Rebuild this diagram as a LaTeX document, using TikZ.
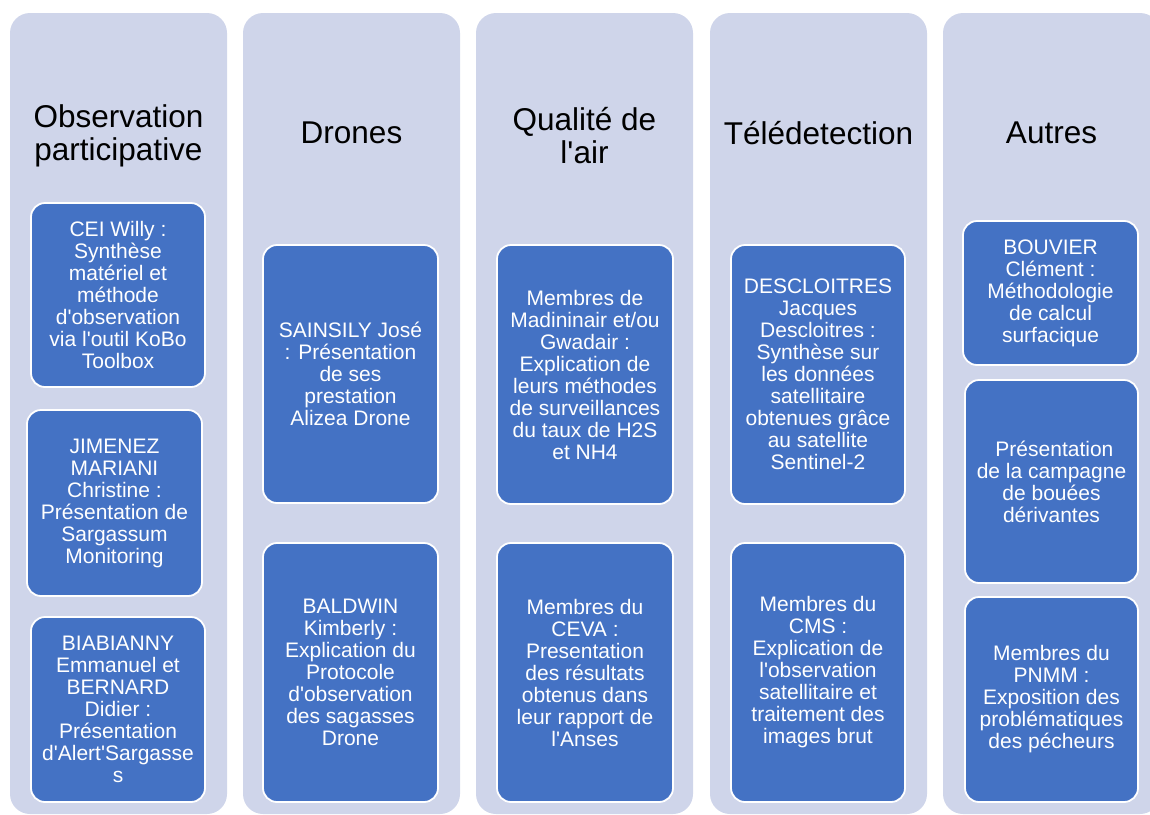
\documentclass[tikz,border=0pt]{standalone}
\usepackage{fontspec}
\setmainfont{Liberation Sans}
\definecolor{lav}{HTML}{CFD5EA}
\definecolor{boxblue}{HTML}{4472C4}
\newcommand\aq{\textquotesingle}
\newcommand\mybox[6]{\node[item, minimum width={#4-#2}, minimum height={#5-#3}] (#1) at ({(#2+#4)/2},{(#3+#5)/2}) {#6};}
\begin{document}
\begin{tikzpicture}[x=1pt,y=-1pt,
 colbg/.style={fill=lav, draw=none, rounded corners=20pt, minimum width=217pt, minimum height=801pt, inner sep=0pt},
 ttl/.style={font=\fontsize{31.5}{33}\selectfont, align=center, text=black, inner sep=0pt},
 item/.style={fill=boxblue, draw=white, line width=1.8pt, rounded corners=14pt, inner sep=0pt, text=white, align=center, font=\fontsize{21}{22}\selectfont},
]
\useasboundingbox (0,0) rectangle (1150,814);
\clip (0,0) rectangle (1150,814);
% columns
\node[colbg] (col1) at (118.5,413.5) {};
\node[colbg] (col2) at (351.5,413.5) {};
\node[colbg] (col3) at (584.5,413.5) {};
\node[colbg] (col4) at (818.5,413.5) {};
\node[colbg] (col5) at (1051.5,413.5) {};
% titles
\node[ttl] (t1) at (118.5,136) {Observation\\participative};
\node[ttl] (t2) at (351.5,133) {Drones};
\node[ttl] (t3) at (584.5,136) {Qualité de\\l\aq air};
\node[ttl] (t4) at (818.5,133) {Télédetection};
\node[ttl] (t5) at (1051.5,133) {Autres};
% boxes
\mybox{c1b1}{31}{203}{205}{387}{CEI Willy :\\Synthèse\\matériel et\\méthode\\d\aq observation\\via l\aq outil KoBo\\Toolbox}
\mybox{c1b2}{27}{410}{202}{596}{JIMENEZ\\MARIANI\\Christine :\\Présentation de\\Sargassum\\Monitoring}
\mybox{c1b3}{31}{617}{205}{802}{BIABIANNY\\Emmanuel et\\BERNARD\\Didier :\\Présentation\\d\aq Alert\aq Sargasse\\s}
\mybox{c2b1}{263}{245}{438}{503}{SAINSILY José\\: Présentation\\de ses\\prestation\\Alizea Drone}
\mybox{c2b2}{263}{543}{438}{802}{BALDWIN\\Kimberly :\\Explication du\\Protocole\\d\aq observation\\des sagasses\\Drone}
\mybox{c3b1}{497}{245}{673}{504}{Membres de\\Madininair et/ou\\Gwadair :\\Explication de\\leurs méthodes\\de surveillances\\du taux de H2S\\et NH4}
\mybox{c3b2}{497}{543}{673}{802}{Membres du\\CEVA :\\Presentation\\des résultats\\obtenus dans\\leur rapport de\\l\aq Anses}
\mybox{c4b1}{731}{245}{905}{504}{DESCLOITRES\\Jacques\\Descloitres :\\Synthèse sur\\les données\\satellitaire\\obtenues grâce\\au satellite\\Sentinel-2}
\mybox{c4b2}{731}{543}{905}{802}{Membres du\\CMS :\\Explication de\\l\aq observation\\satellitaire et\\traitement des\\images brut}
\mybox{c5b1}{963}{221}{1138}{365}{BOUVIER\\Clément :\\Méthodologie\\de calcul\\surfacique}
\mybox{c5b2}{965}{380}{1138}{583}{\ Présentation\\de la campagne\\de bouées\\dérivantes}
\mybox{c5b3}{965}{597}{1138}{802}{Membres du\\PNMM :\\Exposition des\\problématiques\\des pécheurs}
\end{tikzpicture}
\end{document}
